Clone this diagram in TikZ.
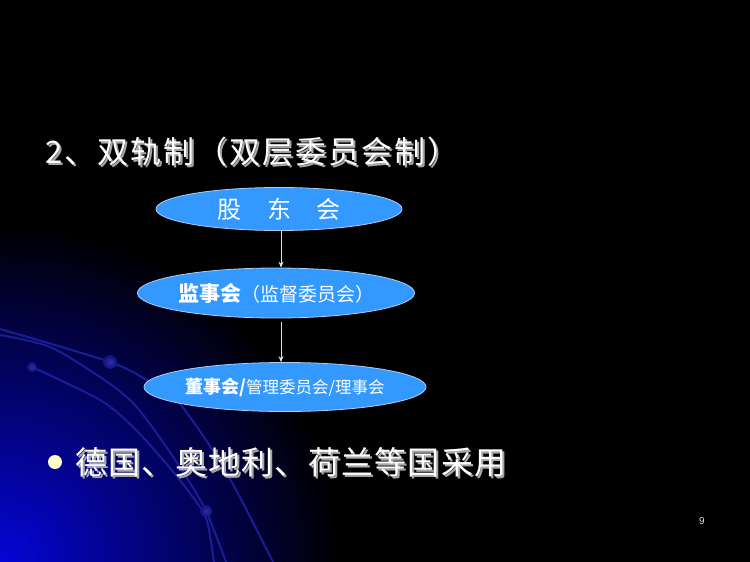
\documentclass[tikz,border=0pt]{standalone}
\usepackage{fontspec}
\newfontfamily\cjk{Noto Sans CJK SC}
\setsansfont{Liberation Sans}
\usetikzlibrary{shapes.geometric,arrows.meta}
\definecolor{ellblue}{RGB}{51,153,255}
\definecolor{ellline}{RGB}{170,205,250}
\definecolor{bgblue}{RGB}{5,5,215}
\definecolor{curveblue}{RGB}{28,28,150}
\definecolor{dotin}{RGB}{45,45,175}
\definecolor{dotout}{RGB}{18,18,115}
\definecolor{bulletyellow}{RGB}{255,255,204}
\tikzset{
  ell/.style={ellipse, fill=ellblue, draw=ellline, line width=0.8pt, text=white, inner sep=0pt},
  arr/.style={draw=white!88!black, line width=0.8pt, -{Stealth[length=6pt,width=5pt]}},
  curve/.style={draw=curveblue, line width=2pt},
  dotsty/.style={circle, inner sep=0pt, shading=radial, inner color=dotin, outer color=dotout},
  titletext/.style={anchor=west, inner sep=0pt, text=white},
  shadowtext/.style={anchor=west, inner sep=0pt, text=gray!70},
}
\begin{document}
\begin{tikzpicture}[x=1pt,y=-1pt]
\useasboundingbox (0,0) rectangle (750,562);
\fill[black] (0,0) rectangle (750,562);
\begin{scope}
  \clip (0,0) rectangle (750,562);
  \shade[inner color=bgblue, outer color=black] (0,562) circle[radius=340pt];
  % decorative curves
  \draw[curve] plot[smooth] coordinates {(0,329) (110,362) (150,382) (177,400) (225,470) (273,562)};
  \draw[curve] plot[smooth] coordinates {(0,335) (50,347) (100,377) (130,400) (153,428) (185,475) (206,511) (226,562)};
  \draw[curve] plot[smooth] coordinates {(32,367) (100,400) (133,427) (170,468) (200,507) (208,525) (214,562)};
  \node[dotsty, minimum size=14pt] (d1) at (110,362) {};
  \node[dotsty, minimum size=10pt] (d2) at (32,367) {};
  \node[dotsty, minimum size=12pt] (d3) at (206,511) {};
\end{scope}

% title
\node[shadowtext] (tts) at (47,154) {\cjk\fontsize{31}{31}\selectfont\addfontfeature{LetterSpace=6.5}2、双轨制（双层委员会制）};
\node[titletext] (tt) at (45,152) {\cjk\fontsize{31}{31}\selectfont\addfontfeature{LetterSpace=6.5}2、双轨制（双层委员会制）};

% ellipses
\node[ell, minimum width=246pt, minimum height=43pt] (e1) at (279,209)
  {\cjk\fontsize{24}{24}\selectfont 股\hspace{1.05em}东\hspace{1.05em}会};
\node[ell, minimum width=265pt, minimum height=50pt] (e2) at (276,293)
  {{\cjk\fontsize{21}{21}\selectfont\bfseries 监事会}{\cjk\fontsize{19}{19}\selectfont （监督委员会）}};
\node[ell, minimum width=267pt, minimum height=49pt] (e3) at (285,387)
  {{\cjk\fontsize{18}{18}\selectfont\bfseries 董事会/}{\cjk\fontsize{16.5}{16.5}\selectfont 管理委员会/理事会}};

\coordinate (a1) at (281,230);
\coordinate (a2) at (281,322);
\draw[arr] (a1) -- (a1 |- e2.north);
\draw[arr] (a2) -- (a2 |- e3.north);

% bullet line
\node[circle, fill=bulletyellow, minimum size=14pt, inner sep=0pt] (bul) at (55,462) {};
\node[shadowtext] (bts) at (77,464) {\cjk\fontsize{32}{32}\selectfont\addfontfeature{LetterSpace=4}德国、奥地利、荷兰等国采用};
\node[titletext] (bt) at (75,462) {\cjk\fontsize{32}{32}\selectfont\addfontfeature{LetterSpace=4}德国、奥地利、荷兰等国采用};

% page number
\node[text=white!85!black, inner sep=0pt] (pg) at (702,521) {\sffamily\fontsize{10}{10}\selectfont 9};
\end{tikzpicture}
\end{document}
